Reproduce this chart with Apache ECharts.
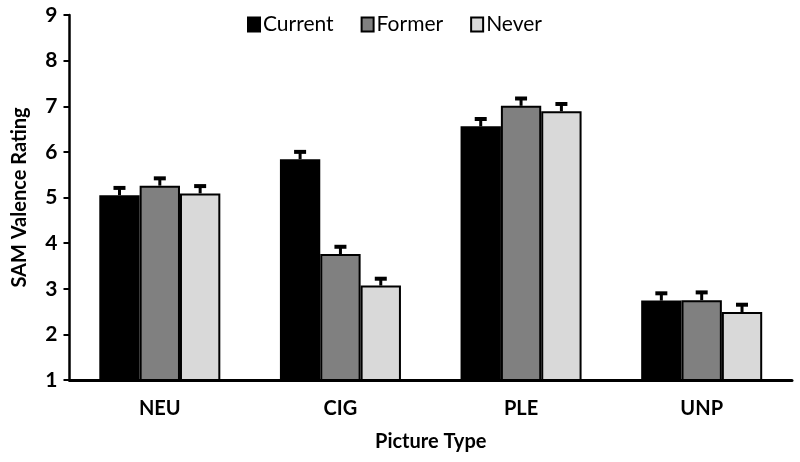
<!DOCTYPE html>
<html>
<head>
<meta charset="utf-8">
<script src="https://cdn.jsdelivr.net/npm/echarts@6/dist/echarts.min.js"></script>
<style>html,body{margin:0;padding:0;background:#fff;}#c{width:800px;height:462px;}</style>
</head>
<body>
<div id="c"></div>
<script>
var categories = ['NEU', 'CIG', 'PLE', 'UNP'];
var seriesNames = ['Current', 'Former', 'Never'];
var currentVals = [5.05, 5.84, 6.56, 2.74];
var formerVals = [5.26, 3.76, 7.01, 2.75];
var neverVals = [5.09, 3.07, 6.89, 2.49];
var currentErr = [0.16, 0.16, 0.16, 0.16];
var formerErr = [0.16, 0.16, 0.16, 0.17];
var neverErr = [0.16, 0.15, 0.16, 0.16];
var colors = ['#000000', '#808080', '#d9d9d9'];

var FONT = 'Lato';
var vals = [currentVals, formerVals, neverVals];
var errs = [currentErr, formerErr, neverErr];
var GAP = 0.33;

var errData = [];
for (var s = 0; s < 3; s++) {
  for (var i = 0; i < categories.length; i++) {
    errData.push([i, vals[s][i], errs[s][i], s]);
  }
}

var series = [];
for (var s2 = 0; s2 < 3; s2++) {
  series.push({
    name: seriesNames[s2],
    type: 'bar',
    data: vals[s2],
    barGap: '0%',
    barCategoryGap: (GAP * 100) + '%',
    itemStyle: { color: colors[s2], borderColor: '#000', borderWidth: 2 },
    emphasis: { disabled: true },
    z: 2
  });
}
series.push({
  type: 'custom',
  name: 'err',
  data: errData,
  z: 5,
  renderItem: function (params, api) {
    var cat = api.value(0), v = api.value(1), e = api.value(2), s = api.value(3);
    var base = api.coord([cat, v]);
    var top = api.coord([cat, v + e]);
    var cw = api.size([1, 0])[0];
    var bw = cw * (1 - GAP) / 3;
    var x = base[0] + (s - 1) * bw;
    return {
      type: 'group',
      children: [
        { type: 'line', shape: { x1: x, y1: base[1], x2: x, y2: top[1] }, style: { stroke: '#000', lineWidth: 3 } },
        { type: 'line', shape: { x1: x - 6, y1: top[1], x2: x + 6, y2: top[1] }, style: { stroke: '#000', lineWidth: 4 } }
      ]
    };
  }
});

var chart = echarts.init(document.getElementById('c'));
chart.setOption({
  animation: false,
  backgroundColor: '#fff',
  textStyle: { fontFamily: FONT },
  legend: {
    data: seriesNames,
    left: 242,
    top: 9,
    itemWidth: 12,
    itemHeight: 14,
    itemGap: 27,
    icon: 'rect',
    textStyle: { fontFamily: FONT, fontSize: 21, color: '#000', padding: [0, 0, 0, -2] }
  },
  grid: { left: 69.5, right: 8, top: 15, bottom: 82, containLabel: false },
  xAxis: {
    type: 'category',
    data: categories,
    name: 'Picture Type',
    nameLocation: 'middle',
    nameGap: 52,
    nameTextStyle: { fontFamily: FONT, fontSize: 20, fontWeight: 'bold', color: '#000' },
    axisLine: { lineStyle: { color: '#000', width: 3 } },
    axisTick: { show: false },
    axisLabel: { fontFamily: FONT, fontSize: 20, fontWeight: 'bold', color: '#000', margin: 19 }
  },
  yAxis: {
    type: 'value',
    min: 1,
    max: 9,
    interval: 1,
    name: 'SAM Valence Rating',
    nameLocation: 'middle',
    nameGap: 40,
    nameTextStyle: { fontFamily: FONT, fontSize: 20, fontWeight: 'bold', color: '#000' },
    axisLine: { show: true, lineStyle: { color: '#000', width: 2.5 } },
    axisTick: { show: true, length: 6, lineStyle: { color: '#000', width: 2 } },
    splitLine: { show: false },
    axisLabel: { fontFamily: FONT, fontSize: 21, fontWeight: 'bold', color: '#000', margin: 12 }
  },
  series: series
});
</script>
</body>
</html>
